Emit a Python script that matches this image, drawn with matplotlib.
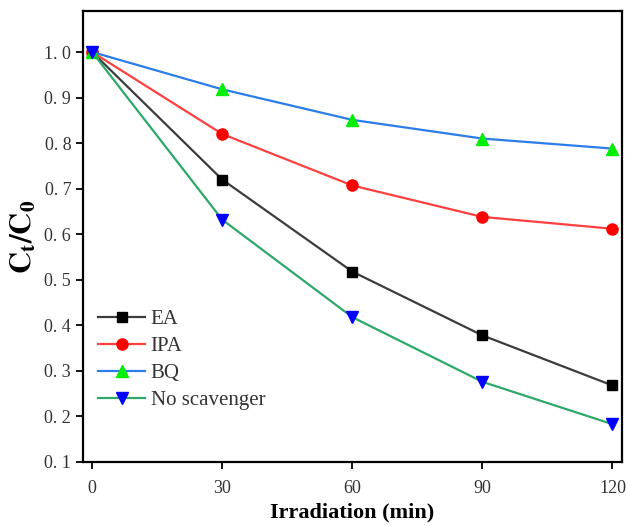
import matplotlib.pyplot as plt
from matplotlib.ticker import FuncFormatter

time = [0, 30, 60, 90, 120]
ea = [1.0, 0.72, 0.518, 0.378, 0.268]
ipa = [1.0, 0.82, 0.707, 0.638, 0.612]
bq = [1.0, 0.918, 0.851, 0.81, 0.788]
no_scav = [1.0, 0.632, 0.418, 0.276, 0.183]

plt.rcParams['font.family'] = ['Liberation Serif', 'DejaVu Serif']
plt.rcParams['mathtext.fontset'] = 'stix'

fig = plt.figure(figsize=(6.27, 5.26), dpi=100)
ax = fig.add_axes([83 / 627, 1 - 462 / 526, (622 - 83) / 627, (462 - 11) / 526])

ax.plot(time, ea, color='#3c3c3c', lw=1.6, marker='s', ms=7, mfc='black', mec='black', label='EA')
ax.plot(time, ipa, color='#ff4040', lw=1.6, marker='o', ms=8, mfc='red', mec='red', label='IPA')
ax.plot(time, bq, color='#2b7de9', lw=1.6, marker='^', ms=9, mfc='#00ee00', mec='#00ee00', label='BQ')
ax.plot(time, no_scav, color='#2ea86a', lw=1.6, marker='v', ms=9, mfc='blue', mec='blue', label='No scavenger')

ax.set_xlim(-2.1, 122.2)
ax.set_ylim(0.1, 1.09)
ax.set_xticks([0, 30, 60, 90, 120])
ax.set_yticks([0.1, 0.2, 0.3, 0.4, 0.5, 0.6, 0.7, 0.8, 0.9, 1.0])
ax.yaxis.set_major_formatter(FuncFormatter(lambda v, p: f'{v:.1f}'.replace('.', '. ')))
ax.tick_params(direction='out', length=5, width=1.3, labelsize=13, colors='black', labelcolor='#333333')
ax.tick_params(axis='x', pad=8)
for s in ax.spines.values():
    s.set_linewidth(1.6)

ax.set_xlabel('Irradiation (min)', fontsize=16, fontweight='bold', labelpad=4)
ax.set_ylabel(r'$\mathbf{C_t/C_0}$', fontsize=22, labelpad=4)

ax.legend(loc='upper left', bbox_to_anchor=(0.0, 0.37), frameon=False, fontsize=15,
          handlelength=2.3, handletextpad=0.25, labelspacing=0.35, borderaxespad=0.3,
          labelcolor='#333333')

fig.savefig('out.png', dpi=100)
